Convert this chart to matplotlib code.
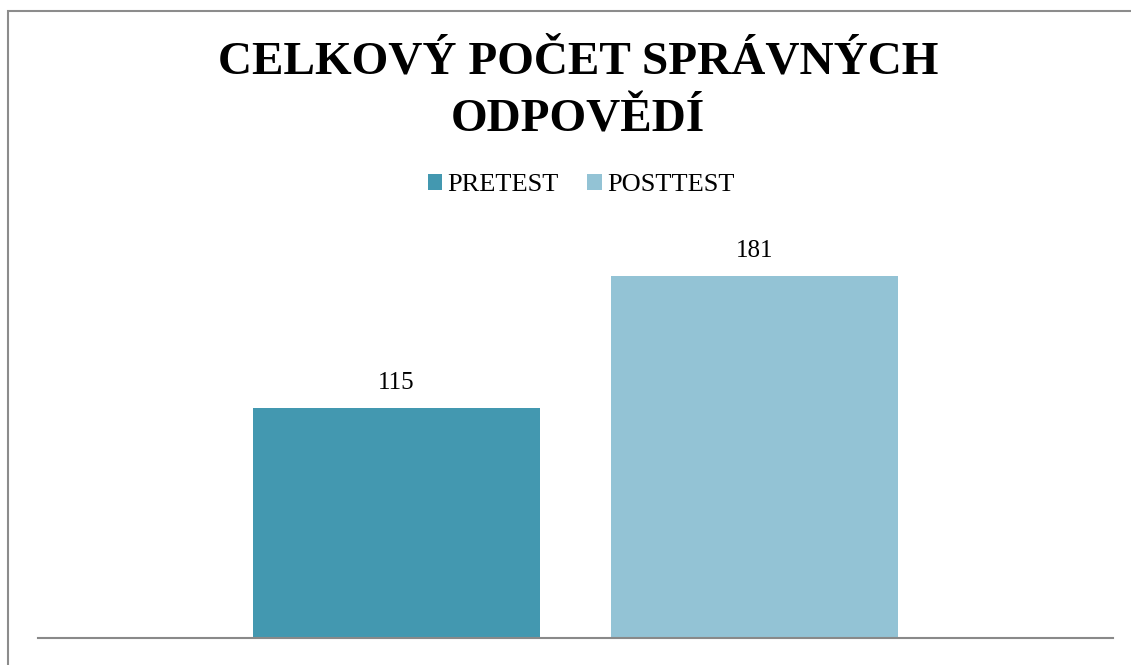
import matplotlib.pyplot as plt
import matplotlib.patches as patches

# data
series = ['PRETEST', 'POSTTEST']
values = [115, 181]
colors = ['#4398B0', '#93C3D5']
title = 'CELKOVÝ POČET SPRÁVNÝCH\nODPOVĚDÍ'

plt.rcParams['font.family'] = ['Liberation Serif', 'DejaVu Serif']

fig = plt.figure(figsize=(11.31, 6.65), dpi=100)
ax = fig.add_axes([38 / 1131, 1 - 638 / 665, 1075 / 1131, 400 / 665])

# one category, two series side by side
width = 0.267
offsets = [-0.1665, 0.1665]
for name, val, col, off in zip(series, values, colors, offsets):
    ax.bar(off, val, width=width, color=col, label=name)
    ax.annotate(str(val), (off, val), xytext=(0, 14), textcoords='offset pixels',
                ha='center', va='bottom', fontsize=18)

ax.set_xlim(-0.5, 0.5)
ax.set_ylim(0, 200)
for s in ['top', 'right', 'left']:
    ax.spines[s].set_visible(False)
ax.spines['bottom'].set_color('#898989')
ax.spines['bottom'].set_linewidth(1.5)
ax.set_xticks([])
ax.set_yticks([])

fig.text(0.511, 1 - 42 / 665, title, ha='center', va='top', fontsize=34,
         fontweight='bold', linespacing=1.48)

fig.legend(loc='center', bbox_to_anchor=(581 / 1131, 1 - 185 / 665), ncol=2,
           frameon=False, fontsize=19, handlelength=0.55, handleheight=0.55,
           handletextpad=0.2, columnspacing=1.07)

# outer frame
fig.patches.append(patches.Rectangle((8 / 1131, -0.1), 1.2, 1 - 11 / 665 + 0.1,
                                     transform=fig.transFigure, fill=False,
                                     edgecolor='#8c8c8c', linewidth=1.5))

fig.savefig('out.png', dpi=100)
